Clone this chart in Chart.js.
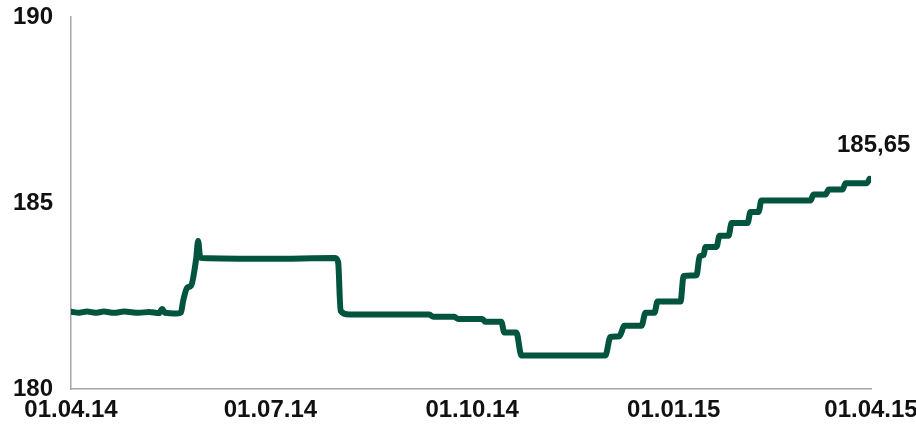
<!DOCTYPE html>
<html>
<head>
<meta charset="utf-8">
<script src="https://cdn.jsdelivr.net/npm/chart.js@4/dist/chart.umd.min.js"></script>
<style>
  html, body { margin: 0; padding: 0; background: #fff; }
  #wrap { width: 916px; height: 432px; position: relative; }
</style>
</head>
<body>
<div id="wrap"><canvas id="chart"></canvas></div>
<script>
// день от 01.04.14 -> значение
const days = [0, 3.7, 7.3, 11, 15, 19.6, 24.2, 31, 35.6, 40.2, 41.6, 42.9, 48.4, 50.2, 51.1, 53, 54.8, 57.1, 58, 58.9, 59.8,
  90, 120.5, 121.9, 123, 126.9, 163.5, 165.3, 174.9, 176.7, 187.7, 189, 196.3, 197.7, 203.2, 205.5,
  243.8, 246.1, 250.2, 252.5, 260.3, 262.1, 266.2, 267.6, 278.1, 279.5, 285.4, 286.8, 288.6, 289.5,
  294.5, 295.9, 300, 301.4, 308.7, 310, 313.7, 315, 337.4, 338.8, 344.3, 345.7, 352, 353.4, 363, 364.4];
const values = [182.08, 182.05, 182.08, 182.05, 182.08, 182.05, 182.08, 182.05, 182.07, 182.04, 182.15, 182.05, 182.03, 182.06, 182.35, 182.72, 182.78, 183.5, 183.98, 183.55, 183.52,
  183.5, 183.52, 183.4, 182.1, 182.0, 182.0, 181.94, 181.94, 181.88, 181.88, 181.81, 181.81, 181.52, 181.52, 180.9,
  180.9, 181.4, 181.42, 181.7, 181.7, 182.05, 182.05, 182.35, 182.35, 183.04, 183.06, 183.56, 183.6, 183.82,
  183.82, 184.12, 184.12, 184.46, 184.46, 184.76, 184.76, 185.07, 185.07, 185.23, 185.23, 185.36, 185.36, 185.53, 185.53, 185.65];

const tickDays = [0, 91, 183, 275, 365];
const tickLabels = ["01.04.14", "01.07.14", "01.10.14", "01.01.15", "01.04.15"];

const FONT = "'Liberation Sans', Arial, sans-serif";

// подпись последнего значения
const lastLabel = {
  id: "lastLabel",
  afterDatasetsDraw(chart) {
    const meta = chart.getDatasetMeta(0);
    const pt = meta.data[meta.data.length - 1];
    const v = values[values.length - 1];
    const ctx = chart.ctx;
    ctx.save();
    ctx.font = "bold 24px " + FONT;
    ctx.fillStyle = "#111";
    ctx.textAlign = "center";
    ctx.textBaseline = "middle";
    ctx.fillText(v.toFixed(2).replace(".", ","), pt.x + 4, pt.y - 33);
    ctx.restore();
  }
};

new Chart(document.getElementById("chart"), {
  type: "line",
  data: {
    datasets: [{
      data: days.map((d, i) => ({ x: d, y: values[i] })),
      borderColor: "#03543f",
      borderWidth: 6,
      pointRadius: 0,
      cubicInterpolationMode: "monotone",
      borderJoinStyle: "round",
      borderCapStyle: "round",
      fill: false
    }]
  },
  options: {
    responsive: true,
    maintainAspectRatio: false,
    animation: false,
    layout: { padding: { top: 17, right: 45, left: 0, bottom: 0 } },
    plugins: { legend: { display: false }, tooltip: { enabled: false } },
    scales: {
      x: {
        type: "linear",
        min: 0,
        max: 365,
        afterBuildTicks(scale) { scale.ticks = tickDays.map(v => ({ value: v })); },
        afterFit(scale) {
          scale.height = 43;
          scale.paddingLeft = 0;
          scale.paddingRight = 0;
        },
        grid: { display: false, drawTicks: false },
        border: { display: true, color: "#a6a6a6", width: 1.5 },
        ticks: {
          callback: (v) => tickLabels[tickDays.indexOf(v)],
          font: { family: FONT, size: 24, weight: "bold" },
          color: "#111",
          padding: 7,
          maxRotation: 0,
          autoSkip: false
        }
      },
      y: {
        min: 180,
        max: 190,
        afterFit(scale) {
          scale.width = 71;
          scale.paddingTop = 0;
          scale.paddingBottom = 0;
        },
        grid: { display: false, drawTicks: false },
        border: { display: true, color: "#a6a6a6", width: 1.5 },
        ticks: {
          stepSize: 5,
          font: { family: FONT, size: 24, weight: "bold" },
          color: "#111",
          padding: 18
        }
      }
    }
  },
  plugins: [lastLabel]
});
</script>
</body>
</html>
